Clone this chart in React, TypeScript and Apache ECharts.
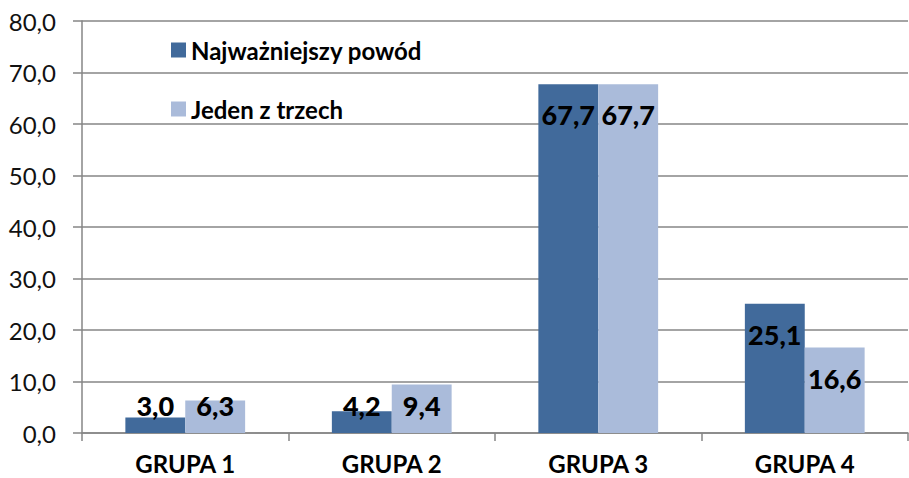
import React, { useEffect, useRef } from "react";
import * as echarts from "echarts";

const categories = ["GRUPA 1", "GRUPA 2", "GRUPA 3", "GRUPA 4"];
const seriesNames = ["Najważniejszy powód", "Jeden z trzech"];
const najwazniejszy = [3.0, 4.2, 67.7, 25.1];
const jedenZTrzech = [6.3, 9.4, 67.7, 16.6];
const colors = ["#416A9B", "#AABBDA"];

const FONT = "Lato, 'Open Sans', sans-serif";
const fmt = (v: number) => v.toFixed(1).replace(".", ",");

function buildData(values: number[]) {
  return values.map((v) =>
    v < 12
      ? { value: v, label: { position: "insideBottom", distance: 14 } }
      : { value: v, label: { position: "insideTop", distance: 17 } }
  );
}

export default function App() {
  const ref = useRef<HTMLDivElement>(null);
  useEffect(() => {
    if (!ref.current) return;
    const chart = echarts.init(ref.current, null, { renderer: "svg" });
    const labelStyle = {
      show: true,
      fontFamily: FONT,
      fontWeight: 900,
      fontSize: 27,
      color: "#000",
      formatter: (p: any) => fmt(p.value),
    };
    chart.setOption({
      animation: false,
      textStyle: { fontFamily: FONT },
      grid: { left: 82, right: 1, top: 21, bottom: 45, containLabel: false },
      legend: {
        orient: "vertical",
        left: 166,
        top: 33,
        itemWidth: 15,
        itemHeight: 15,
        itemGap: 35,
        icon: "rect",
        textStyle: { fontFamily: FONT, fontWeight: "bold", fontSize: 24, color: "#000" },
        data: seriesNames,
      },
      xAxis: {
        type: "category",
        data: categories,
        axisLine: { lineStyle: { color: "#868686", width: 1.5 } },
        axisTick: { show: true, length: 8, lineStyle: { color: "#868686", width: 1.5 } },
        axisLabel: {
          margin: 18,
          fontFamily: FONT,
          fontWeight: "bold",
          fontSize: 24,
          color: "#000",
        },
      },
      yAxis: {
        type: "value",
        min: 0,
        max: 80,
        interval: 10,
        axisLine: { show: true, lineStyle: { color: "#868686", width: 1.5 } },
        axisTick: { show: true, length: 9, lineStyle: { color: "#868686", width: 1.5 } },
        splitLine: { lineStyle: { color: "#868686", width: 1.5 } },
        axisLabel: {
          margin: 26,
          fontFamily: FONT,
          fontSize: 24,
          color: "#111",
          formatter: (v: number) => fmt(v),
        },
      },
      series: [
        {
          name: seriesNames[0],
          type: "bar",
          data: buildData(najwazniejszy),
          itemStyle: { color: colors[0] },
          barGap: "0%",
          barCategoryGap: "42%",
          label: labelStyle,
        },
        {
          name: seriesNames[1],
          type: "bar",
          data: buildData(jedenZTrzech),
          itemStyle: { color: colors[1] },
          barGap: "0%",
          barCategoryGap: "42%",
          label: labelStyle,
        },
      ],
    });
    return () => chart.dispose();
  }, []);
  return (
    <div
      ref={ref}
      style={{ position: "absolute", left: 0, top: 0, width: 909, height: 478 }}
    />
  );
}
